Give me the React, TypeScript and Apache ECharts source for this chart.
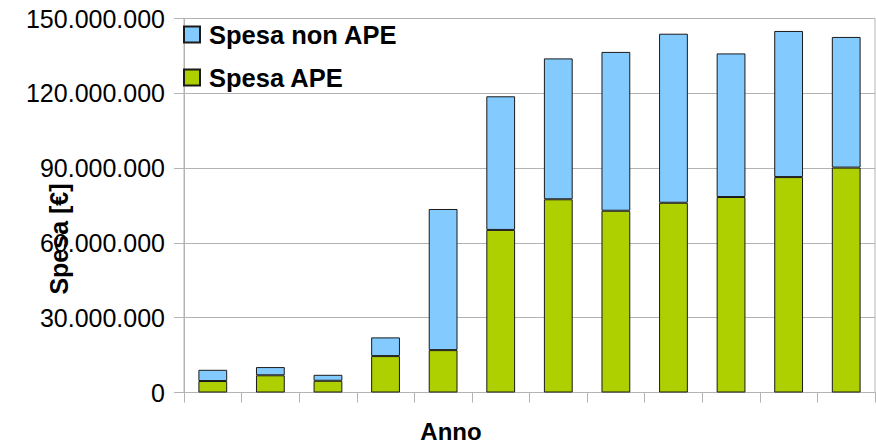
import React, { useEffect, useRef } from "react";
import * as echarts from "echarts";

// Twelve yearly bars, no tick labels on the category axis
const categories: string[] = ["1", "2", "3", "4", "5", "6", "7", "8", "9", "10", "11", "12"];

// Spending in euro, split in APE and non-APE shares (stacked)
const spesaAPE: number[] = [
  4600000, 6900000, 4700000, 14600000, 17000000, 65200000,
  77500000, 72900000, 76100000, 78400000, 86400000, 90200000,
];
const spesaNonAPE: number[] = [
  4500000, 3300000, 2400000, 7500000, 56600000, 53600000,
  56500000, 63700000, 67800000, 57600000, 58600000, 52400000,
];

const yMin = 0;
const yMax = 150000000;
const yStep = 30000000;

const FONT = "'Liberation Sans', Arial, sans-serif";

function formatEuro(v: number): string {
  return String(Math.round(v)).replace(/\B(?=(\d{3})+(?!\d))/g, ".");
}

export default function App() {
  const ref = useRef<HTMLDivElement>(null);

  useEffect(() => {
    if (!ref.current) return;
    const chart = echarts.init(ref.current, null, { renderer: "svg" });
    chart.setOption({
      animation: false,
      backgroundColor: "#ffffff",
      textStyle: { fontFamily: FONT },
      grid: {
        left: 184,
        right: 1,
        top: 18.5,
        bottom: 50.5,
        show: true,
        borderColor: "#b3b3b3",
        borderWidth: 1,
      },
      legend: {
        orient: "vertical",
        left: 183,
        top: 21.5,
        padding: 0,
        icon: "rect",
        itemWidth: 16,
        itemHeight: 16,
        itemGap: 17,
        data: ["Spesa non APE", "Spesa APE"],
        textStyle: {
          fontFamily: FONT,
          fontSize: 25.5,
          fontWeight: "bold",
          color: "#000000",
          padding: [0, 0, 0, 4],
        },
      },
      xAxis: {
        type: "category",
        data: categories,
        boundaryGap: true,
        axisLine: { lineStyle: { color: "#b3b3b3" } },
        axisTick: { show: true, length: 10, lineStyle: { color: "#b3b3b3" } },
        axisLabel: { show: false },
      },
      yAxis: {
        type: "value",
        min: yMin,
        max: yMax,
        interval: yStep,
        axisLine: { show: true, lineStyle: { color: "#b3b3b3" } },
        axisTick: { show: true, length: 10, lineStyle: { color: "#b3b3b3" } },
        splitLine: { lineStyle: { color: "#b3b3b3" } },
        axisLabel: {
          margin: 19,
          fontFamily: FONT,
          fontSize: 25,
          color: "#000000",
          formatter: (v: number) => formatEuro(v),
        },
      },
      series: [
        {
          name: "Spesa APE",
          type: "bar",
          stack: "spesa",
          barWidth: "50%",
          data: spesaAPE,
          itemStyle: { color: "#aecf00", borderColor: "#1a1a1a", borderWidth: 1 },
        },
        {
          name: "Spesa non APE",
          type: "bar",
          stack: "spesa",
          barWidth: "50%",
          data: spesaNonAPE,
          itemStyle: { color: "#83caff", borderColor: "#1a1a1a", borderWidth: 1 },
        },
      ],
      graphic: [
        {
          type: "text",
          x: 451,
          y: 431,
          style: {
            text: "Anno",
            fontFamily: FONT,
            fontSize: 24,
            fontWeight: "bold",
            fill: "#000000",
            align: "center",
            verticalAlign: "middle",
          },
        },
        {
          type: "text",
          x: 59,
          y: 239,
          rotation: Math.PI / 2,
          style: {
            text: "Spesa [€]",
            fontFamily: FONT,
            fontSize: 25,
            fontWeight: "bold",
            fill: "#000000",
            align: "center",
            verticalAlign: "middle",
          },
        },
      ],
    });
    return () => chart.dispose();
  }, []);

  return (
    <div
      ref={ref}
      style={{ position: "fixed", left: 0, top: 0, width: 876, height: 443 }}
    />
  );
}
